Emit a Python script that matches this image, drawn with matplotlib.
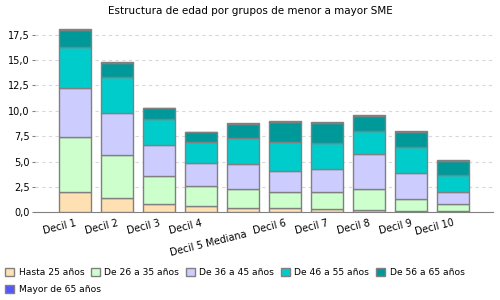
import matplotlib.pyplot as plt
import numpy as np

deciles = ['Decil 1', 'Decil 2', 'Decil 3', 'Decil 4', '\nDecil 5 Mediana',
           'Decil 6', 'Decil 7', 'Decil 8', 'Decil 9', 'Decil 10']
grupos = ['Hasta 25 años', 'De 26 a 35 años', 'De 36 a 45 años',
          'De 46 a 55 años', 'De 56 a 65 años', 'Mayor de 65 años']

hasta_25 = [1.96, 1.37, 0.82, 0.62, 0.39, 0.39, 0.29, 0.20, 0.10, 0.10]
de_26_35 = [5.48, 4.31, 2.80, 1.93, 1.96, 1.57, 1.67, 2.12, 1.24, 0.68]
de_36_45 = [4.80, 4.11, 3.04, 2.35, 2.42, 2.15, 2.35, 3.43, 2.55, 1.24]
de_46_55 = [4.01, 3.50, 2.51, 2.05, 2.58, 2.84, 2.51, 2.28, 2.54, 1.67]
de_56_65 = [1.67, 1.37, 1.08, 0.95, 1.30, 1.93, 1.96, 1.47, 1.47, 1.37]
mayor_65 = [0.10, 0.10, 0.04, 0.05, 0.10, 0.10, 0.10, 0.04, 0.10, 0.05]

series = [hasta_25, de_26_35, de_36_45, de_46_55, de_56_65, mayor_65]
colores = ['#FFE0B2', '#CCFFCC', '#CCCCFF', '#00CCCC', '#009999', '#5555FF']

fig = plt.figure(figsize=(5, 3), dpi=100)
ax = fig.add_axes([0.07, 0.292, 0.916, 0.62])

x = np.arange(len(deciles))
bottom = np.zeros(len(deciles))
handles = []
for vals, col, lab in zip(series, colores, grupos):
    b = ax.bar(x, vals, 0.76, bottom=bottom, color=col, edgecolor='#808080',
               linewidth=1, label=lab, zorder=3)
    handles.append(b)
    bottom += np.array(vals)

ax.set_xlim(-0.95, 9.95)
ax.set_ylim(0, 18.3)
ax.set_yticks(np.arange(0, 17.6, 2.5))
ax.set_yticklabels([f'{v:.1f}'.replace('.', ',') for v in np.arange(0, 17.6, 2.5)],
                   fontsize=7)
ax.set_xticks(x)
ax.set_xticklabels(deciles, rotation=14, ha='right', rotation_mode='anchor',
                   fontsize=7)
ax.tick_params(axis='x', length=0, pad=4)
ax.tick_params(axis='y', length=2, color='#808080', pad=2)
ax.grid(axis='y', linestyle=(0, (3, 3)), color='#D8D8D8', linewidth=0.8, zorder=0)
for s in ['top', 'right', 'left']:
    ax.spines[s].set_visible(False)
ax.spines['bottom'].set_color('#808080')

fig.text(0.5, 0.965, 'Estructura de edad por grupos de menor a mayor SME',
         ha='center', va='center', fontsize=7.5)

leg_opts = dict(loc='upper left', fontsize=6.6, frameon=False, handlelength=1.0,
                handleheight=1.0, handletextpad=0.5, borderpad=0.2,
                borderaxespad=0)
fig.legend(handles[:5], grupos[:5], bbox_to_anchor=(0.006, 0.113), ncol=5,
           columnspacing=0.7, **leg_opts)
fig.legend(handles[5:], grupos[5:], bbox_to_anchor=(0.006, 0.056), ncol=1,
           **leg_opts)

fig.savefig('out.png', dpi=100)
